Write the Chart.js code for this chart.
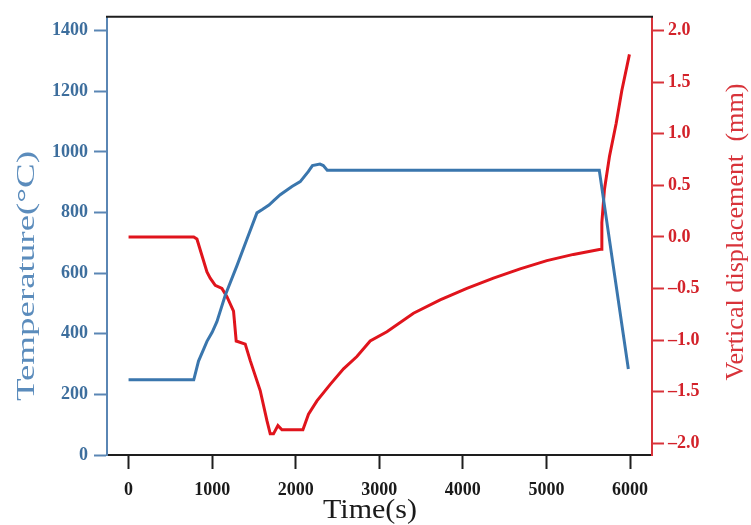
<!DOCTYPE html>
<html>
<head>
<meta charset="utf-8">
<script src="https://cdn.jsdelivr.net/npm/chart.js@4.4.1/dist/chart.umd.min.js"></script>
<style>
  html, body { margin: 0; padding: 0; background: #ffffff; }
  #wrap { width: 751px; height: 525px; }
</style>
</head>
<body>
<div id="wrap"><canvas id="c" width="751" height="525"></canvas></div>
<script>
// Temperature history (°C) against time (s)
const tempTime  = [0, 780, 837, 900, 938, 1000, 1057, 1157, 1297, 1416, 1536, 1600, 1680, 1740, 1815, 1955, 2054, 2150, 2200, 2290, 2330, 2377, 5632, 5980];
const tempValue = [248, 248, 310, 350, 375, 405, 440, 527, 625, 712, 799, 810, 825, 840, 859, 886, 902, 935, 955, 960, 955, 940, 940, 284];

// Vertical displacement (mm) against time (s)
const dispTime  = [0, 780, 818, 878, 938, 977, 1037, 1117, 1177, 1256, 1288, 1396, 1456, 1575, 1655, 1695, 1734, 1787, 1835, 2086, 2153, 2254, 2413, 2572, 2732, 2891, 3091, 3409, 3728, 4048, 4366, 4685, 5005, 5323, 5648, 5656, 5663, 5694, 5754, 5834, 5902, 5993];
const dispValue = [0, 0, -0.02, -0.18, -0.34, -0.40, -0.47, -0.50, -0.58, -0.72, -1.01, -1.04, -1.20, -1.49, -1.78, -1.91, -1.91, -1.83, -1.87, -1.87, -1.72, -1.59, -1.43, -1.28, -1.16, -1.01, -0.92, -0.74, -0.61, -0.50, -0.40, -0.31, -0.23, -0.17, -0.12, -0.12, 0.14, 0.46, 0.78, 1.10, 1.42, 1.77];

// Axis tick values
const timeTicks = [0, 1000, 2000, 3000, 4000, 5000, 6000];
const tempTicks = [0, 200, 400, 600, 800, 1000, 1200, 1400];
const dispTicks = [-2.0, -1.5, -1.0, -0.5, 0.0, 0.5, 1.0, 1.5, 2.0];

const BLUE = '#3a76ad';
const BLUE_TXT = '#3d6e9d';
const RED = '#e0141c';
const RED_TXT = '#d3222a';
const SERIF = '"Liberation Serif", "DejaVu Serif", serif';

const toPoints = (xs, ys) => xs.map((x, i) => ({ x: x, y: ys[i] }));

// Outer frame line along the top and the three axis titles
const frameAndTitles = {
  id: 'frameAndTitles',
  afterDraw(chart) {
    const { ctx, chartArea: a } = chart;
    ctx.save();
    ctx.strokeStyle = '#1e1e1e';
    ctx.lineWidth = 2;
    ctx.beginPath();
    ctx.moveTo(a.left - 1, a.top);
    ctx.lineTo(a.right + 1, a.top);
    ctx.stroke();

    const title = (text, cx, cy, size, color, length, rotate) => {
      ctx.save();
      ctx.font = size + 'px ' + SERIF;
      ctx.fillStyle = color;
      ctx.textAlign = 'center';
      ctx.textBaseline = 'middle';
      ctx.translate(cx, cy);
      if (rotate) ctx.rotate(-Math.PI / 2);
      const w = ctx.measureText(text).width;
      ctx.scale(length / w, 1);
      ctx.fillText(text, 0, 0);
      ctx.restore();
    };
    title('Temperature(\u00B0C)', 27, 276, 25, '#5b8cbc', 250, true);
    title('Vertical displacement  (mm)', 736, 232, 26, '#d8333a', 297, true);
    title('Time(s)', 370, 511, 28, '#1a1a1a', 94, false);
    ctx.restore();
  }
};

new Chart(document.getElementById('c'), {
  type: 'line',
  data: {
    datasets: [
      {
        label: 'Temperature',
        data: toPoints(tempTime, tempValue),
        yAxisID: 'y',
        borderColor: BLUE,
        borderWidth: 3,
        pointRadius: 0,
        tension: 0,
        fill: false
      },
      {
        label: 'Vertical displacement',
        data: toPoints(dispTime, dispValue),
        yAxisID: 'y2',
        borderColor: RED,
        borderWidth: 3,
        pointRadius: 0,
        tension: 0,
        fill: false
      }
    ]
  },
  options: {
    responsive: false,
    animation: false,
    devicePixelRatio: 1,
    layout: { padding: { top: 12, left: 0, right: 0, bottom: 0 } },
    plugins: {
      legend: { display: false },
      tooltip: { enabled: false }
    },
    scales: {
      x: {
        type: 'linear',
        position: 'bottom',
        min: -258,
        max: 6263,
        afterFit: s => { s.height = 70; },
        afterBuildTicks: s => { s.ticks = timeTicks.map(v => ({ value: v })); },
        ticks: {
          color: '#1a1a1a',
          padding: 11,
          maxRotation: 0,
          font: { family: SERIF, size: 18, weight: 'bold' },
          callback: v => String(v)
        },
        grid: { drawOnChartArea: false, drawTicks: true, tickLength: 14, tickColor: '#1e1e1e', tickWidth: 2 },
        border: { color: '#1e1e1e', width: 2 }
      },
      y: {
        type: 'linear',
        position: 'left',
        min: 0,
        max: 1446,
        afterFit: s => { s.width = 107; },
        afterBuildTicks: s => { s.ticks = tempTicks.map(v => ({ value: v })); },
        ticks: {
          color: BLUE_TXT,
          padding: 6,
          font: { family: SERIF, size: 18, weight: 'bold' },
          callback: v => String(v)
        },
        grid: { drawOnChartArea: false, drawTicks: true, tickLength: 13, tickColor: '#5a86b4', tickWidth: 2 },
        border: { color: '#5a86b4', width: 2 }
      },
      y2: {
        type: 'linear',
        position: 'right',
        min: -2.115,
        max: 2.134,
        afterFit: s => { s.width = 99; },
        afterBuildTicks: s => { s.ticks = dispTicks.map(v => ({ value: v })); },
        ticks: {
          color: RED_TXT,
          padding: 4,
          font: { family: SERIF, size: 18, weight: 'bold' },
          callback: v => (v < 0 ? '\u2013' : '') + Math.abs(v).toFixed(1)
        },
        grid: { drawOnChartArea: false, drawTicks: true, tickLength: 12, tickColor: '#d8333a', tickWidth: 2 },
        border: { color: '#d8333a', width: 2 }
      }
    }
  },
  plugins: [frameAndTitles]
});
</script>
</body>
</html>
